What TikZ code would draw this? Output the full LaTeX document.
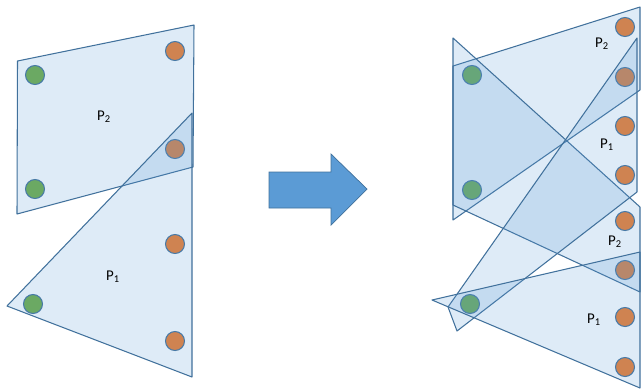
\documentclass[tikz,border=0pt]{standalone}
\usepackage{fontspec}
\setmainfont{Carlito}
\definecolor{planefill}{HTML}{5B9BD5}
\definecolor{planeline}{HTML}{41719C}
\definecolor{dotgreen}{HTML}{70AD47}
\definecolor{dotorange}{HTML}{ED7D31}

\begin{document}
\begin{tikzpicture}[x=0.02cm, y=-0.02cm,
  plane/.style={draw=planeline, line width=0.6pt, fill=planefill, fill opacity=0.2, line join=round},
  dotg/.style={circle, draw=planeline, line width=0.6pt, fill=dotgreen, minimum size=0.38cm, inner sep=0pt},
  doto/.style={dotg, fill=dotorange},
  lab/.style={font=\fontsize{8.5}{10}\selectfont, inner sep=0pt}]
  \useasboundingbox (0,0) rectangle (641,390);
  % points, left
  \node[dotg] (lg1) at (35,75) {};
  \node[dotg] (lg2) at (35,189) {};
  \node[dotg] (lg3) at (33,304) {};
  \node[doto] (lo1) at (175,51) {};
  \node[doto] (lo2) at (175,149) {};
  \node[doto] (lo3) at (175,244) {};
  \node[doto] (lo4) at (175,341) {};
  % points, right
  \node[dotg] (rg1) at (472,75) {};
  \node[dotg] (rg2) at (472,190) {};
  \node[dotg] (rg3) at (470,304) {};
  \foreach \y [count=\i] in {27,77,126,175,221,270,317,367}
    \node[doto] (ro\i) at (625,\y) {};
  % planes, left
  \draw[plane] (17.5,61) -- (194,25) -- (193,167) -- (17,214) -- cycle;
  \draw[plane] (192,113) -- (192,377) -- (7,306) -- cycle;
  \node[lab] (lp2) at (104,117) {P\textsubscript{2}};
  \node[lab] (lp1) at (113,277) {P\textsubscript{1}};
  % arrow
  \draw[planeline, fill=planefill, line width=0.4pt] (269,172) -- (331,172) -- (331,154)
    -- (367,189) -- (331,225) -- (331,208) -- (269,208) -- cycle;
  % planes, right
  \draw[plane] (453,66) -- (640,7) -- (640,90) -- (453,220) -- cycle;
  \draw[plane] (453,38) -- (640,207) -- (640,292) -- (453,205) -- cycle;
  \draw[plane] (637,38) -- (637,192) -- (457,331) -- (448,307) -- cycle;
  \draw[plane] (432,300) -- (640,252) -- (640,388) -- cycle;
  \node[lab] (rp2a) at (602,44) {P\textsubscript{2}};
  \node[lab] (rp1a) at (607,145) {P\textsubscript{1}};
  \node[lab] (rp2b) at (615,242) {P\textsubscript{2}};
  \node[lab] (rp1b) at (594,320) {P\textsubscript{1}};
\end{tikzpicture}
\end{document}
